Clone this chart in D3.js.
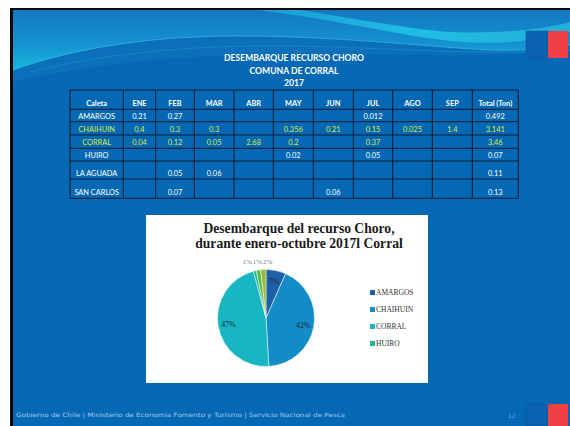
<!DOCTYPE html>
<html><head><meta charset="utf-8">
<script src="https://cdn.jsdelivr.net/npm/d3@7"></script>
<style>html,body{margin:0;padding:0;background:#fff;}svg{display:block;}</style>
</head><body>
<svg id="c" width="570" height="426"></svg>
<script>
// ---- data ----
const months = ["ENE","FEB","MAR","ABR","MAY","JUN","JUL","AGO","SEP"];
const caletas = ["AMARGOS","CHAIHUIN","CORRAL","HUIRO","LA AGUADA","SAN CARLOS"];
const amargos   = ["0.21","0.27","","","","","0.012","",""];
const chaihuin  = ["0.4","0.3","0.3","","0.356","0.21","0.15","0.025","1.4"];
const corral    = ["0.04","0.12","0.05","2.68","0.2","","0.37","",""];
const huiro     = ["","","","","0.02","","0.05","",""];
const laAguada  = ["","0.05","0.06","","","","","",""];
const sanCarlos = ["","0.07","","","","0.06","","",""];
const totals    = ["0.492","3.141","3.46","0.07","0.11","0.13"];
const highlighted = ["CHAIHUIN","CORRAL"];
const pieLabels = ["AMARGOS","CHAIHUIN","CORRAL","HUIRO","LA AGUADA","SAN CARLOS"];
const pieValues = [0.492,3.141,3.46,0.07,0.11,0.13];
const legendShown = ["AMARGOS","CHAIHUIN","CORRAL","HUIRO"];
const titleLines = ["DESEMBARQUE RECURSO CHORO","COMUNA DE CORRAL","2017"];
const chartTitle = ["Desembarque del recurso Choro,","durante enero-octubre 2017l Corral"];
const footer = "Gobierno de Chile | Ministerio de Economía Fomento y Turismo | Servicio Nacional de Pesca";
const pageNum = "12";

const rowsData = [amargos,chaihuin,corral,huiro,laAguada,sanCarlos];

const svg = d3.select("#c");
const defs = svg.append("defs");

// ---- slide background ----
svg.append("rect").attr("x",10).attr("y",8).attr("width",560).attr("height",418).attr("fill","#0b0b0b");
svg.append("rect").attr("x",13).attr("y",10).attr("width",557).attr("height",416).attr("fill","#0568b4");
const g1 = defs.append("linearGradient").attr("id","topg").attr("x1",0).attr("y1",0).attr("x2",0).attr("y2",1);
g1.append("stop").attr("offset",0).attr("stop-color","#1478c0");
g1.append("stop").attr("offset",0.45).attr("stop-color","#168fcf");
g1.append("stop").attr("offset",1).attr("stop-color","#16c6e4");
svg.append("rect").attr("x",13).attr("y",10).attr("width",557).attr("height",70).attr("fill","url(#topg)");
const g2 = defs.append("linearGradient").attr("id","band").attr("x1",0).attr("y1",0).attr("x2",1).attr("y2",0);
g2.append("stop").attr("offset",0).attr("stop-color","#1a9ad6");
g2.append("stop").attr("offset",0.5).attr("stop-color","#20bde2");
g2.append("stop").attr("offset",1).attr("stop-color","#1fb0dc");
svg.append("path").attr("d","M255,10 C330,18 390,34 450,41 C505,46 540,40 570,32 L570,22 C540,30 500,34 450,32 C400,28 340,16 300,10 Z").attr("fill","url(#band)");
svg.append("path").attr("d","M13,70 C80,46 160,35 250,36 C350,37 440,48 490,50 C530,51 555,48 570,45 L570,426 L13,426 Z").attr("fill","#0b6fba");
svg.append("path").attr("d","M13,82 C100,62 200,54 300,54 C400,54 480,58 570,52 L570,426 L13,426 Z").attr("fill","#0568b4");
svg.append("path").attr("d","M13,70 C80,46 160,35 250,36 C350,37 440,48 490,50 C530,51 555,48 570,45").attr("fill","none").attr("stroke","#3ccbe6").attr("stroke-width",0.8).attr("opacity",0.7);
svg.append("path").attr("d","M30,72 C110,52 200,45 290,46 C380,47 470,56 570,50").attr("fill","none").attr("stroke","#2eb8dd").attr("stroke-width",0.6).attr("opacity",0.5);
// corner squares
svg.append("rect").attr("x",526).attr("y",31).attr("width",22).attr("height",27).attr("fill","#0a62b0").attr("stroke","#0d4f8e").attr("stroke-width",0.5);
svg.append("rect").attr("x",548).attr("y",31).attr("width",20).attr("height",27).attr("fill","#ef4044");
svg.append("rect").attr("x",526).attr("y",404).attr("width",22).attr("height",22).attr("fill","#0a62b0").attr("stroke","#0d4f8e").attr("stroke-width",0.5);
svg.append("rect").attr("x",548).attr("y",404).attr("width",20).attr("height",22).attr("fill","#ef4044");

// ---- title ----
svg.append("g").selectAll("text").data(titleLines).join("text")
  .attr("x",294).attr("y",(d,i)=>61+i*12.7).attr("text-anchor","middle")
  .attr("font-family","Lato, 'Open Sans', sans-serif").attr("font-weight","bold").attr("font-size",8.6)
  .attr("fill","#fff").text(d=>d);

// ---- table ----
const colEdges = [70,123.3,155.7,194.3,234,273.3,313.3,353.3,392.7,432.3,472.3,518.3];
const rowEdges = [90,109.3,121.7,135,148.3,161,179,198.3];
const headers = ["Caleta",...months,"Total (Ton)"];
const tg = svg.append("g");
const tableRows = [headers, ...caletas.map((c,i)=>[c,...rowsData[i],totals[i]])];
const yB = d3.scaleOrdinal().domain(d3.range(tableRows.length)).range(rowEdges.slice(1));
tableRows.forEach((row,ri)=>{
  const isHead = ri===0;
  const hl = !isHead && highlighted.includes(row[0]);
  tg.append("g").selectAll("text").data(row).join("text")
    .attr("x",(d,ci)=>(colEdges[ci]+colEdges[ci+1])/2)
    .attr("y",yB(ri)-3)
    .attr("text-anchor","middle")
    .attr("font-family","Lato, 'Open Sans', sans-serif")
    .attr("font-weight",isHead?"bold":"normal")
    .attr("font-size",7.4)
    .attr("fill",hl?"#d6ea3a":"#fff")
    .text(d=>d);
});
tg.append("g").selectAll("line").data(rowEdges).join("line")
  .attr("x1",colEdges[0]).attr("x2",colEdges[colEdges.length-1]).attr("y1",d=>d).attr("y2",d=>d)
  .attr("stroke","#0a1a2a").attr("stroke-width",1);
tg.append("g").selectAll("line").data(colEdges).join("line")
  .attr("y1",rowEdges[0]).attr("y2",rowEdges[rowEdges.length-1]).attr("x1",d=>d).attr("x2",d=>d)
  .attr("stroke","#0a1a2a").attr("stroke-width",1);

// ---- chart box ----
svg.append("rect").attr("x",146).attr("y",215).attr("width",282).attr("height",168).attr("fill","#fff");
svg.append("g").selectAll("text").data(chartTitle).join("text")
  .attr("x",299).attr("y",(d,i)=>233+i*14.5).attr("text-anchor","middle")
  .attr("font-family","'Liberation Serif', 'DejaVu Serif', serif").attr("font-weight","bold").attr("font-size",13.6)
  .attr("fill","#1a1a1a").text(d=>d);

const color = d3.scaleOrdinal().domain(pieLabels)
  .range(["#1f5fa8","#138bc6","#18b6c2","#22b58a","#5db84e","#9bb83c"]);
const cx=266, cy=318, r=48.5;
const pie = d3.pie().sort(null).value(d=>d)(pieValues);
const arc = d3.arc().innerRadius(0).outerRadius(r);
const pg = svg.append("g").attr("transform",`translate(${cx},${cy})`);
pg.selectAll("path").data(pie).join("path")
  .attr("d",arc).attr("fill",(d,i)=>color(pieLabels[i])).attr("stroke","#fff").attr("stroke-width",0.5);
const total = d3.sum(pieValues);
const inArc = d3.arc().innerRadius(r*0.78).outerRadius(r*0.78);
const outArc = d3.arc().innerRadius(r*1.2).outerRadius(r*1.2);
const isSmall = d=>(d.endAngle-d.startAngle)<0.2;
const labels = pg.selectAll("text").data(pie).join("text")
  .attr("text-anchor","middle")
  .attr("font-family","'Liberation Serif', 'DejaVu Serif', serif")
  .attr("font-size",d=>isSmall(d)?7:8)
  .attr("fill",d=>isSmall(d)?"#7a7a7a":"#1b2a3a")
  .text(d=>Math.round(d.value/total*100)+"%");
// positions, small outside labels spread so they don't overlap
const pos = pie.map(d=>(isSmall(d)?outArc:inArc).centroid(d));
const smallIdx = pie.map((d,i)=>i).filter(i=>isSmall(pie[i]));
const widths = labels.nodes().map(n=>n.getComputedTextLength());
const sumW = d3.sum(smallIdx,i=>widths[i]) + (smallIdx.length-1)*1;
const meanX = d3.mean(smallIdx,i=>pos[i][0]);
let curX = meanX - sumW/2;
smallIdx.forEach(i=>{ pos[i][0] = curX + widths[i]/2; curX += widths[i]+1; });
const smallY = d3.mean(smallIdx,i=>pos[i][1]);
smallIdx.forEach(i=>{ pos[i][1] = smallY; });
labels.attr("transform",(d,i)=>`translate(${pos[i][0]},${pos[i][1]+3})`);

// legend
const lg = svg.append("g");
const ly = d3.scalePoint().domain(legendShown).range([293,344]);
lg.selectAll("rect").data(legendShown).join("rect")
  .attr("x",370).attr("y",d=>ly(d)-3).attr("width",5).attr("height",5).attr("fill",d=>color(d));
lg.selectAll("text").data(legendShown).join("text")
  .attr("x",376).attr("y",d=>ly(d)+2).attr("font-family","'Liberation Serif', 'DejaVu Serif', serif")
  .attr("font-size",7.5).attr("fill","#333").text(d=>d);

// ---- footer ----
svg.append("text").attr("x",16).attr("y",417).attr("font-family","'DejaVu Sans', sans-serif")
  .attr("font-size",6).attr("fill","#a8c6e6").attr("textLength",329).attr("lengthAdjust","spacingAndGlyphs").text(footer);
svg.append("text").attr("x",508).attr("y",418).attr("font-family","'DejaVu Sans', sans-serif")
  .attr("font-size",6).attr("fill","#6f9fd0").text(pageNum);
</script>
</body></html>
